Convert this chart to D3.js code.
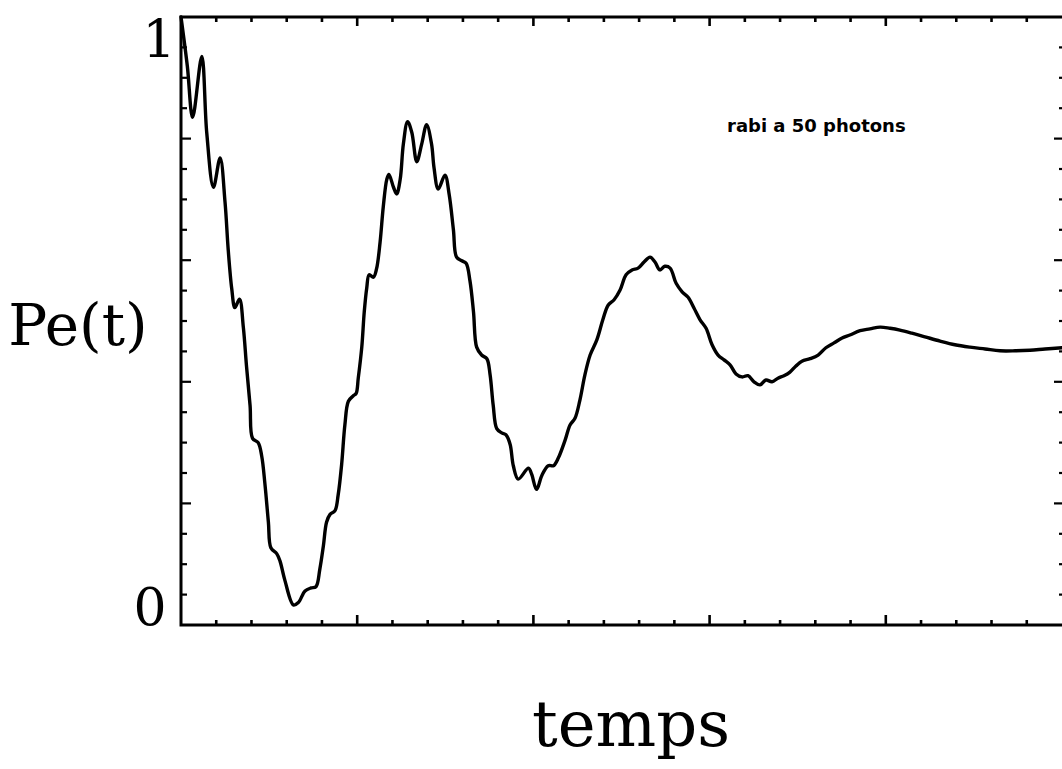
<!DOCTYPE html>
<html>
<head>
<meta charset="utf-8">
<script src="https://cdn.jsdelivr.net/npm/d3@7"></script>
<style>
  html, body { margin: 0; padding: 0; background: #fff; }
  svg { display: block; }
</style>
</head>
<body>
<svg id="chart" width="1062" height="769"></svg>
<script>
// ---- data ----
const timeValues = [
  0.00, 0.18, 0.33, 0.59, 0.73, 0.92, 1.11, 1.25, 1.34, 1.44, 1.53, 1.66, 1.77, 1.86, 1.96,
  2.03, 2.19, 2.29, 2.38, 2.48, 2.55, 2.72, 2.81, 2.95, 3.19, 3.33, 3.52, 3.69, 3.83, 3.94,
  4.04, 4.13, 4.23, 4.37, 4.46, 4.56, 4.65, 4.75, 4.89, 4.97, 5.03, 5.13, 5.20, 5.27, 5.34,
  5.46, 5.55, 5.65, 5.74, 5.84, 5.90, 6.03, 6.12, 6.22, 6.31, 6.43, 6.55, 6.69, 6.83, 6.97,
  7.11, 7.18, 7.30, 7.49, 7.61, 7.73, 7.82, 7.97, 8.09, 8.20, 8.30, 8.39, 8.53, 8.68, 8.77,
  8.86, 8.96, 9.10, 9.22, 9.34, 9.43, 9.57, 9.86, 9.95, 10.09, 10.24, 10.42, 10.57, 10.71,
  10.90, 11.04, 11.18, 11.32, 11.46, 11.61, 11.80, 11.97, 12.12, 12.29, 12.46, 12.63, 12.80,
  12.97, 13.14, 13.31, 13.45, 13.59, 13.73, 13.88, 14.05, 14.22, 14.39, 14.56, 14.73, 14.90,
  15.07, 15.24, 15.41, 15.58, 15.75, 15.92, 16.09, 16.26, 16.43, 16.60, 16.77, 16.94, 17.11,
  17.28, 17.45, 17.62, 17.85, 18.08, 18.30, 18.53, 18.76, 18.98, 19.27, 19.55, 19.84, 20.12,
  20.40, 20.74, 21.11, 21.54, 21.96, 22.39, 22.82, 23.24, 23.67, 24.09, 24.52, 25.00
];
const peValues = [
  1.000, 0.919, 0.835, 0.935, 0.810, 0.720, 0.768, 0.695, 0.617, 0.553, 0.522, 0.536, 0.489, 0.425, 0.361,
  0.307, 0.300, 0.278, 0.233, 0.169, 0.127, 0.117, 0.105, 0.073, 0.033, 0.037, 0.056, 0.061, 0.063, 0.092,
  0.130, 0.169, 0.182, 0.188, 0.214, 0.265, 0.329, 0.368, 0.377, 0.381, 0.406, 0.457, 0.515, 0.554, 0.576,
  0.572, 0.586, 0.630, 0.688, 0.733, 0.741, 0.720, 0.709, 0.733, 0.791, 0.828, 0.810, 0.762, 0.791, 0.823,
  0.791, 0.752, 0.717, 0.740, 0.708, 0.650, 0.605, 0.599, 0.595, 0.566, 0.515, 0.457, 0.444, 0.438, 0.412,
  0.361, 0.323, 0.316, 0.313, 0.297, 0.262, 0.240, 0.258, 0.248, 0.223, 0.246, 0.262, 0.262, 0.275,
  0.304, 0.329, 0.340, 0.370, 0.411, 0.444, 0.469, 0.502, 0.526, 0.535, 0.551, 0.576, 0.584,
  0.587, 0.597, 0.605, 0.597, 0.584, 0.590, 0.587, 0.562, 0.548, 0.539, 0.521, 0.502, 0.488,
  0.461, 0.444, 0.436, 0.428, 0.413, 0.408, 0.410, 0.400, 0.395, 0.403, 0.400, 0.406, 0.410,
  0.416, 0.426, 0.434, 0.438, 0.444, 0.456, 0.464, 0.472, 0.477, 0.484, 0.487, 0.490, 0.488,
  0.485, 0.480, 0.474, 0.467, 0.461, 0.457, 0.454, 0.451, 0.451, 0.452, 0.454, 0.456
];
const xMinorTicks = d3.range(0, 26, 1);
const xMajorTicks = [0, 5, 10, 15, 20, 25];
const yMinorTicks = d3.range(0, 21).map(i => i * 0.05);
const yMajorTicks = [0, 0.2, 0.4, 0.6, 0.8, 1.0];
const yTickLabels = [{ v: 0, text: "0" }, { v: 1, text: "1" }];
const yAxisTitle = "Pe(t)";
const xAxisTitle = "temps";
const annotation = "rabi a 50 photons";

// ---- layout ----
const svg = d3.select("#chart");
const pLeft = 181, pRight = 1062, pTop = 17, pBottom = 625;
const x = d3.scaleLinear().domain([0, 25]).range([pLeft, pRight]);
const y = d3.scaleLinear().domain([0, 1]).range([pBottom, pTop]);
const ink = "#000";

// frame (top, left, bottom)
svg.append("path")
  .attr("d", `M${pRight},${pTop} L${pLeft},${pTop} L${pLeft},${pBottom} L${pRight},${pBottom}`)
  .attr("fill", "none").attr("stroke", ink).attr("stroke-width", 3);

const isMajorX = t => xMajorTicks.includes(t);
const isMajorY = v => yMajorTicks.some(m => Math.abs(m - v) < 1e-9);

// bottom ticks (upward)
svg.append("g").selectAll("line").data(xMinorTicks.filter(t => t > 0 && t < 25)).join("line")
  .attr("x1", d => x(d)).attr("x2", d => x(d))
  .attr("y1", pBottom).attr("y2", d => pBottom - (isMajorX(d) ? 10 : 5))
  .attr("stroke", ink).attr("stroke-width", 2.6);
// top ticks (downward)
svg.append("g").selectAll("line").data(xMinorTicks.filter(t => t > 0 && t < 25)).join("line")
  .attr("x1", d => x(d)).attr("x2", d => x(d))
  .attr("y1", pTop).attr("y2", d => pTop + (isMajorX(d) ? 9 : 5))
  .attr("stroke", ink).attr("stroke-width", 2.6);
// left ticks (rightward)
svg.append("g").selectAll("line").data(yMinorTicks.filter(v => v > 0.01 && v < 0.99)).join("line")
  .attr("x1", pLeft).attr("x2", d => pLeft + (isMajorY(d) ? 10 : 6))
  .attr("y1", d => y(d)).attr("y2", d => y(d))
  .attr("stroke", ink).attr("stroke-width", 2.2);
// right ticks (leftward)
svg.append("g").selectAll("line").data(yMinorTicks.filter(v => v > 0.01 && v < 0.99)).join("line")
  .attr("x1", pRight).attr("x2", d => pRight - (isMajorY(d) ? 8 : 3))
  .attr("y1", d => y(d)).attr("y2", d => y(d))
  .attr("stroke", ink).attr("stroke-width", 2.2);

// curve
const pts = timeValues.map((t, i) => [t, peValues[i]]);
const line = d3.line().x(d => x(d[0])).y(d => y(d[1])).curve(d3.curveCatmullRom.alpha(0.5));
svg.append("path").datum(pts)
  .attr("d", line)
  .attr("fill", "none").attr("stroke", ink).attr("stroke-width", 3.4)
  .attr("stroke-linejoin", "round").attr("stroke-linecap", "round");

// y labels
svg.append("g").selectAll("text").data(yTickLabels).join("text")
  .attr("x", d => d.v === 1 ? 159 : 150)
  .attr("y", d => y(d.v) + (d.v === 1 ? 40 : 0))
  .attr("text-anchor", "middle")
  .attr("font-family", "DejaVu Serif, serif")
  .attr("font-size", 52)
  .attr("fill", ink)
  .text(d => d.text);

// axis titles
svg.append("text").attr("x", 78).attr("y", 345).attr("text-anchor", "middle")
  .attr("font-family", "DejaVu Serif, serif").attr("font-size", 58).attr("fill", ink)
  .text(yAxisTitle);
svg.append("text").attr("x", 631).attr("y", 746).attr("text-anchor", "middle")
  .attr("font-family", "DejaVu Serif, serif").attr("font-size", 64).attr("fill", ink)
  .text(xAxisTitle);

// annotation
svg.append("text").attr("x", 727).attr("y", 132)
  .attr("font-family", "DejaVu Sans, sans-serif").attr("font-weight", "bold")
  .attr("font-size", 18).attr("fill", ink)
  .text(annotation);
</script>
</body>
</html>
